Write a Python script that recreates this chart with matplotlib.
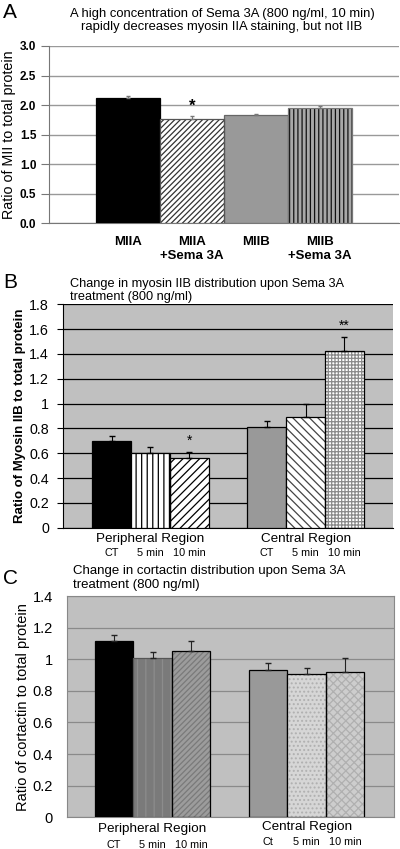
import matplotlib
matplotlib.use("Agg")
import matplotlib.pyplot as plt
import numpy as np

plt.rcParams['font.family'] = ['Liberation Sans', 'DejaVu Sans']
plt.rcParams['hatch.linewidth'] = 0.9

# Panel A data
a_labels = ["MIIA", "MIIA\n+Sema 3A", "MIIB", "MIIB\n+Sema 3A"]
a_values = [2.12, 1.76, 1.84, 1.955]
a_errors = [0.03, 0.06, 0.01, 0.035]

# Panel B data
b_groups = ["Peripheral Region", "Central Region"]
b_sub = [["CT", "5 min", "10 min"], ["CT", "5 min", "10 min"]]
b_values = [[0.70, 0.60, 0.565], [0.815, 0.888, 1.42]]
b_errors = [[0.04, 0.05, 0.045], [0.045, 0.11, 0.12]]

# Panel C data
c_groups = ["Peripheral Region", "Central Region"]
c_sub = [["CT", "5 min", "10 min"], ["Ct", "5 min", "10 min"]]
c_values = [[1.115, 1.005, 1.052], [0.933, 0.908, 0.922]]
c_errors = [[0.04, 0.04, 0.065], [0.04, 0.038, 0.085]]

W, H = 400, 849
fig = plt.figure(figsize=(W / 100, H / 100), dpi=100)


def px_axes(left, top, right, bottom):
    return fig.add_axes([left / W, 1 - bottom / H, (right - left) / W, (bottom - top) / H])


def draw_bar(ax, x, h, width, face, hatch=None, hatch_color='black', edge='black', lw=0.9):
    if hatch:
        ax.bar(x, h, width, color=face, edgecolor=hatch_color, hatch=hatch, linewidth=0, zorder=3)
        ax.bar(x, h, width, fill=False, edgecolor=edge, linewidth=lw, zorder=4)
    else:
        ax.bar(x, h, width, color=face, edgecolor=edge, linewidth=lw, zorder=3)


# ---------------- Panel A ----------------
axA = px_axes(49, 46, 399, 223.3)
a_styles = [
    dict(face='black'),
    dict(face='white', hatch='//////', hatch_color='#333333', edge='#555555'),
    dict(face='#999999', edge='#666666'),
    dict(face='#a8a8a8', hatch='||||', hatch_color='#111111', edge='#777777'),
]
xa = np.arange(len(a_values))
for x, v, st in zip(xa, a_values, a_styles):
    draw_bar(axA, x, v, 1.0, **st)
axA.errorbar(xa, a_values, yerr=[np.zeros(4), a_errors], fmt='none',
             ecolor='#777777', elinewidth=0.8, capsize=1.5, zorder=5)
axA.text(1, 1.98, "*", ha='center', va='center', fontsize=12, fontweight='bold')
axA.set_xlim(-1.234, 4.234)
axA.set_ylim(0, 3.0)
axA.set_yticks(np.arange(0, 3.01, 0.5))
axA.set_yticklabels([f"{t:.1f}" for t in np.arange(0, 3.01, 0.5)], fontweight='bold', fontsize=8.5)
axA.grid(axis='y', color='#999999', linewidth=1, zorder=0)
axA.set_axisbelow(True)
for s in ['top', 'right']:
    axA.spines[s].set_visible(False)
axA.spines['left'].set_color('#777777')
axA.spines['bottom'].set_color('#777777')
axA.tick_params(axis='y', length=6, color='#777777', pad=3)
axA.set_xticks(xa)
axA.set_xticklabels(a_labels, fontweight='bold', fontsize=9.5)
axA.tick_params(axis='x', length=0, pad=9)
axA.set_ylabel("Ratio of MII to total protein", fontsize=10.3, labelpad=3)
fig.text(222 / W, 1 - 20.5 / H,
         "A high concentration of Sema 3A (800 ng/ml, 10 min)\nrapidly decreases myosin IIA staining, but not IIB",
         ha='center', va='center', fontsize=9.4, linespacing=1.15)
fig.text(3 / W, 1 - 13 / H, "A", fontsize=15, va='center', ha='left')

# ---------------- Panel B ----------------
axB = px_axes(63, 304.3, 393, 527.7)
axB.set_facecolor('#c0c0c0')
b_styles = [
    [dict(face='black'),
     dict(face='white', hatch='|||', hatch_color='black'),
     dict(face='white', hatch='////', hatch_color='black')],
    [dict(face='#999999'),
     dict(face='white', hatch='\\\\\\\\', hatch_color='#444444'),
     dict(face='white', hatch='+++++', hatch_color='#8a8a8a')],
]
for g, (vals, errs, styles) in enumerate(zip(b_values, b_errors, b_styles)):
    xs = np.arange(3) + 4 * g
    for x, v, st in zip(xs, vals, styles):
        draw_bar(axB, x, v, 1.0, **st)
    axB.errorbar(xs, vals, yerr=[np.zeros(3), errs], fmt='none',
                 ecolor='black', elinewidth=0.8, capsize=2.5, zorder=5)
    axB.annotate(b_groups[g], (xs[1], 0), xycoords=('data', 'axes fraction'),
                 xytext=(0, -4), textcoords='offset points', ha='center', va='top', fontsize=9.7)
    for x, lab in zip(xs, b_sub[g]):
        axB.annotate(lab, (x, 0), xycoords=('data', 'axes fraction'),
                     xytext=(0, -14.5), textcoords='offset points', ha='center', va='top', fontsize=7.8)
axB.text(2, 0.70, "*", ha='center', va='center', fontsize=10)
axB.text(6, 1.63, "**", ha='center', va='center', fontsize=10)
axB.set_xlim(-1.25, 7.25)
axB.set_ylim(0, 1.8)
b_ticks = np.arange(0, 1.81, 0.2)
axB.set_yticks(b_ticks)
axB.set_yticklabels([f"{t:g}" for t in np.round(b_ticks, 1)], fontsize=10.3)
axB.grid(axis='y', color='black', linewidth=0.9, zorder=0)
axB.set_axisbelow(True)
for s in ['top', 'right']:
    axB.spines[s].set_visible(False)
axB.set_xticks([])
axB.tick_params(axis='y', length=4, pad=6)
axB.set_ylabel("Ratio of Myosin IIB to total protein", fontsize=9.5, fontweight='bold', labelpad=2)
fig.text(70 / W, 1 - 290.5 / H, "Change in myosin IIB distribution upon Sema 3A\ntreatment (800 ng/ml)",
         ha='left', va='center', fontsize=9.2, linespacing=1.2)
fig.text(3 / W, 1 - 283 / H, "B", fontsize=15, va='center', ha='left')

# ---------------- Panel C ----------------
axC = px_axes(67, 596, 394, 817.3)
axC.set_facecolor('#c0c0c0')
c_styles = [
    [dict(face='black'),
     dict(face='#7a7a7a', hatch='||', hatch_color='#8c8c8c', edge='#555555'),
     dict(face='#9c9c9c', hatch='//////', hatch_color='#7a7a7a')],
    [dict(face='#999999'),
     dict(face='#d6d6d6', hatch='....', hatch_color='#b0b0b0'),
     dict(face='#cdcdcd', hatch='xxxx', hatch_color='#b0b0b0')],
]
for g, (vals, errs, styles) in enumerate(zip(c_values, c_errors, c_styles)):
    xs = np.arange(3) + 4 * g
    for x, v, st in zip(xs, vals, styles):
        draw_bar(axC, x, v, 1.0, **st)
    axC.errorbar(xs, vals, yerr=[np.zeros(3), errs], fmt='none',
                 ecolor='#222222', elinewidth=0.8, capsize=2.5, zorder=5)
    axC.annotate(c_groups[g], (xs[1], 0), xycoords=('data', 'axes fraction'),
                 xytext=(0, -4 if g == 0 else -2.5), textcoords='offset points',
                 ha='center', va='top', fontsize=9.7)
    for x, lab in zip(xs, c_sub[g]):
        axC.annotate(lab, (x, 0), xycoords=('data', 'axes fraction'),
                     xytext=(0, -16 if g == 0 else -14), textcoords='offset points',
                     ha='center', va='top', fontsize=7.8)
axC.set_xlim(-1.22, 7.27)
axC.set_ylim(0, 1.4)
c_ticks = np.arange(0, 1.41, 0.2)
axC.set_yticks(c_ticks)
axC.set_yticklabels([f"{t:g}" for t in np.round(c_ticks, 1)], fontsize=10.5)
axC.grid(axis='y', color='#8a8a8a', linewidth=0.9, zorder=0)
axC.set_axisbelow(True)
for s in axC.spines.values():
    s.set_color('#888888')
axC.set_xticks([])
axC.tick_params(axis='y', length=0, pad=10)
axC.set_ylabel("Ratio of cortactin to total protein", fontsize=10.5, labelpad=2)
fig.text(73 / W, 1 - 578 / H, "Change in cortactin distribution upon Sema 3A\ntreatment (800 ng/ml)",
         ha='left', va='center', fontsize=9.5, linespacing=1.15)
fig.text(3 / W, 1 - 579 / H, "C", fontsize=15, va='center', ha='left')

fig.savefig("out.png", dpi=100)
